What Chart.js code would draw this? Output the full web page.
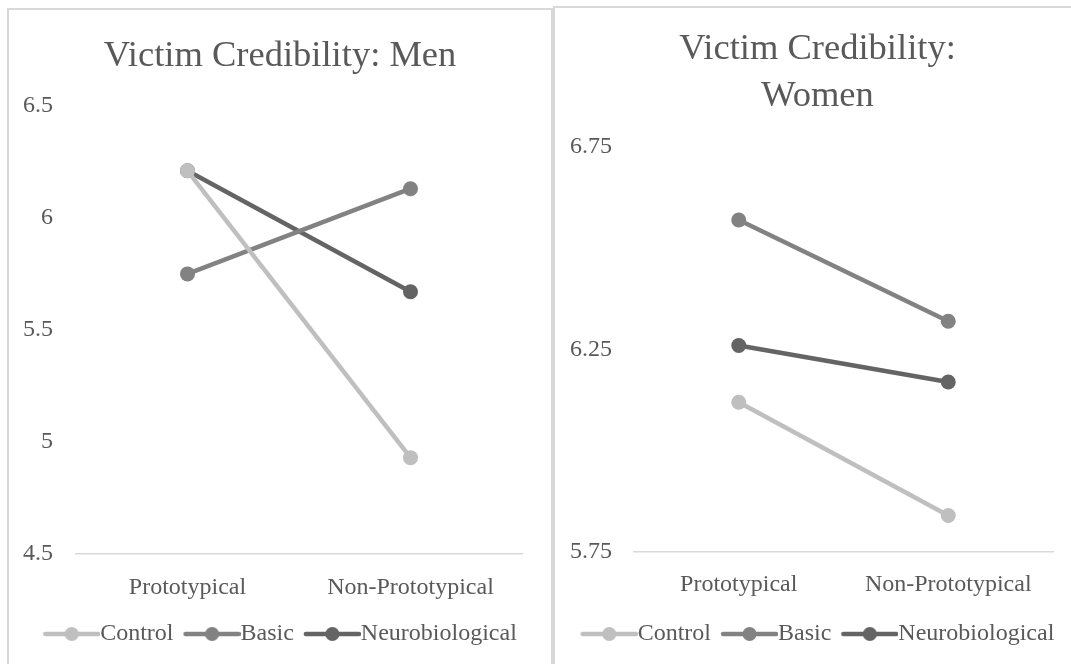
<!DOCTYPE html>
<html>
<head>
<meta charset="utf-8">
<script src="https://cdn.jsdelivr.net/npm/chart.js@4/dist/chart.umd.min.js"></script>
<style>
  body { margin: 0; background: #fff; width: 1071px; height: 664px; overflow: hidden; position: relative; }
  .panel { position: absolute; border: 2px solid #d9d9d9; box-sizing: border-box; background: #fff; }
  canvas { position: absolute; }
</style>
</head>
<body>
<div class="panel" style="left:7px; top:8px; width:546px; height:700px;"></div>
<div class="panel" style="left:553px; top:6px; width:540px; height:700px;"></div>
<canvas id="menChart" width="542" height="654" style="left:9px; top:10px;"></canvas>
<canvas id="womenChart" width="525" height="656" style="left:555px; top:8px;"></canvas>
<script>
// categories and series
var categories = ["Prototypical", "Non-Prototypical"];
var seriesNames = ["Control", "Basic", "Neurobiological"];
var seriesColors = ["#bfbfbf", "#828282", "#646464"];

// Victim credibility ratings, men
var menControl = [6.21, 4.93];
var menBasic = [5.75, 6.13];
var menNeuro = [6.21, 5.67];
var menTicks = [4.5, 5, 5.5, 6, 6.5];

// Victim credibility ratings, women
var womenControl = [6.12, 5.84];
var womenBasic = [6.57, 6.32];
var womenNeuro = [6.26, 6.17];
var womenTicks = [5.75, 6.25, 6.75];

var fontFamily = "'Liberation Serif', 'Times New Roman', serif";
var textColor = "#595959";

// legend marker: a line with a dot in the middle (like Excel)
function legendMarker(color, boxWidth, halfFont) {
  var lineLen = boxWidth + halfFont;
  var w = 2 * (lineLen - boxWidth / 2);
  var c = document.createElement("canvas");
  c.width = w;
  c.height = 18;
  var ctx = c.getContext("2d");
  var start = w - lineLen;
  ctx.strokeStyle = color;
  ctx.lineWidth = 4.5;
  ctx.lineCap = "round";
  ctx.beginPath();
  ctx.moveTo(start + 2, 9);
  ctx.lineTo(w - 2, 9);
  ctx.stroke();
  ctx.fillStyle = color;
  ctx.beginPath();
  ctx.arc(start + lineLen / 2, 9, 7, 0, Math.PI * 2);
  ctx.fill();
  return c;
}

function makeDatasets(values) {
  return values.map(function (v, i) {
    return {
      label: seriesNames[i],
      data: v,
      borderColor: seriesColors[i],
      backgroundColor: seriesColors[i],
      borderWidth: 4.5,
      pointRadius: 7.5,
      pointHoverRadius: 7.5,
      pointBorderWidth: 0,
      tension: 0,
    };
  });
}

function makeChart(id, cfg) {
  var boxWidth = 45;
  var fontSize = 24;
  var markers = seriesColors.map(function (c) {
    return legendMarker(c, boxWidth, fontSize / 2);
  });

  return new Chart(document.getElementById(id), {
    type: "line",
    data: {
      labels: categories,
      datasets: makeDatasets(cfg.values),
    },
    options: {
      responsive: false,
      animation: false,
      layout: { padding: { left: 0, right: 0, top: 0, bottom: 8 } },
      plugins: {
        tooltip: { enabled: false },
        title: {
          display: true,
          text: cfg.title,
          color: textColor,
          font: { family: fontFamily, size: 36.5, weight: "normal", lineHeight: cfg.titleLineHeight },
          padding: cfg.titlePadding,
        },
        legend: {
          position: "bottom",
          labels: {
            color: textColor,
            font: { family: fontFamily, size: fontSize },
            usePointStyle: true,
            pointStyleWidth: boxWidth,
            padding: 10,
            generateLabels: function (chart) {
              var items = Chart.defaults.plugins.legend.labels.generateLabels(chart);
              items.forEach(function (item) {
                item.pointStyle = markers[item.datasetIndex];
              });
              return items;
            },
          },
        },
      },
      scales: {
        x: {
          offset: true,
          grid: { display: false, drawTicks: false },
          border: { display: true, color: "#d9d9d9", width: 1.5 },
          ticks: {
            color: textColor,
            font: { family: fontFamily, size: 24 },
            padding: cfg.xPad,
            maxRotation: 0,
          },
          afterFit: function (scale) {
            scale.height = cfg.xHeight;
          },
        },
        y: {
          min: cfg.ticks[0],
          max: cfg.ticks[cfg.ticks.length - 1],
          grid: { display: false, drawTicks: false },
          border: { display: false },
          ticks: {
            color: textColor,
            font: { family: fontFamily, size: 24 },
            padding: cfg.yPad,
            callback: function (value) {
              return String(value);
            },
          },
          afterBuildTicks: function (scale) {
            scale.ticks = cfg.ticks.map(function (t) {
              return { value: t };
            });
          },
          afterFit: function (scale) {
            scale.width = cfg.yWidth;
          },
        },
        // empty right-hand gutter so title and legend stay centred on the panel
        gutter: {
          type: "linear",
          position: "right",
          grid: { display: false, drawTicks: false },
          border: { display: false },
          ticks: { display: false },
          afterFit: function (scale) {
            scale.width = cfg.rightGap;
          },
        },
      },
    },
  });
}

makeChart("menChart", {
  title: "Victim Credibility: Men",
  titleLineHeight: 1.2,
  titlePadding: { top: 25, bottom: 27 },
  values: [menControl, menBasic, menNeuro],
  ticks: menTicks,
  yWidth: 67,
  rightGap: 29,
  yPad: 23,
  xPad: 19,
  xHeight: 58,
});

makeChart("womenChart", {
  title: ["Victim Credibility:", "Women"],
  titleLineHeight: 1.29,
  titlePadding: { top: 18, bottom: 27 },
  values: [womenControl, womenBasic, womenNeuro],
  ticks: womenTicks,
  yWidth: 79,
  rightGap: 27,
  yPad: 22,
  xPad: 18,
  xHeight: 60,
});
</script>
</body>
</html>
